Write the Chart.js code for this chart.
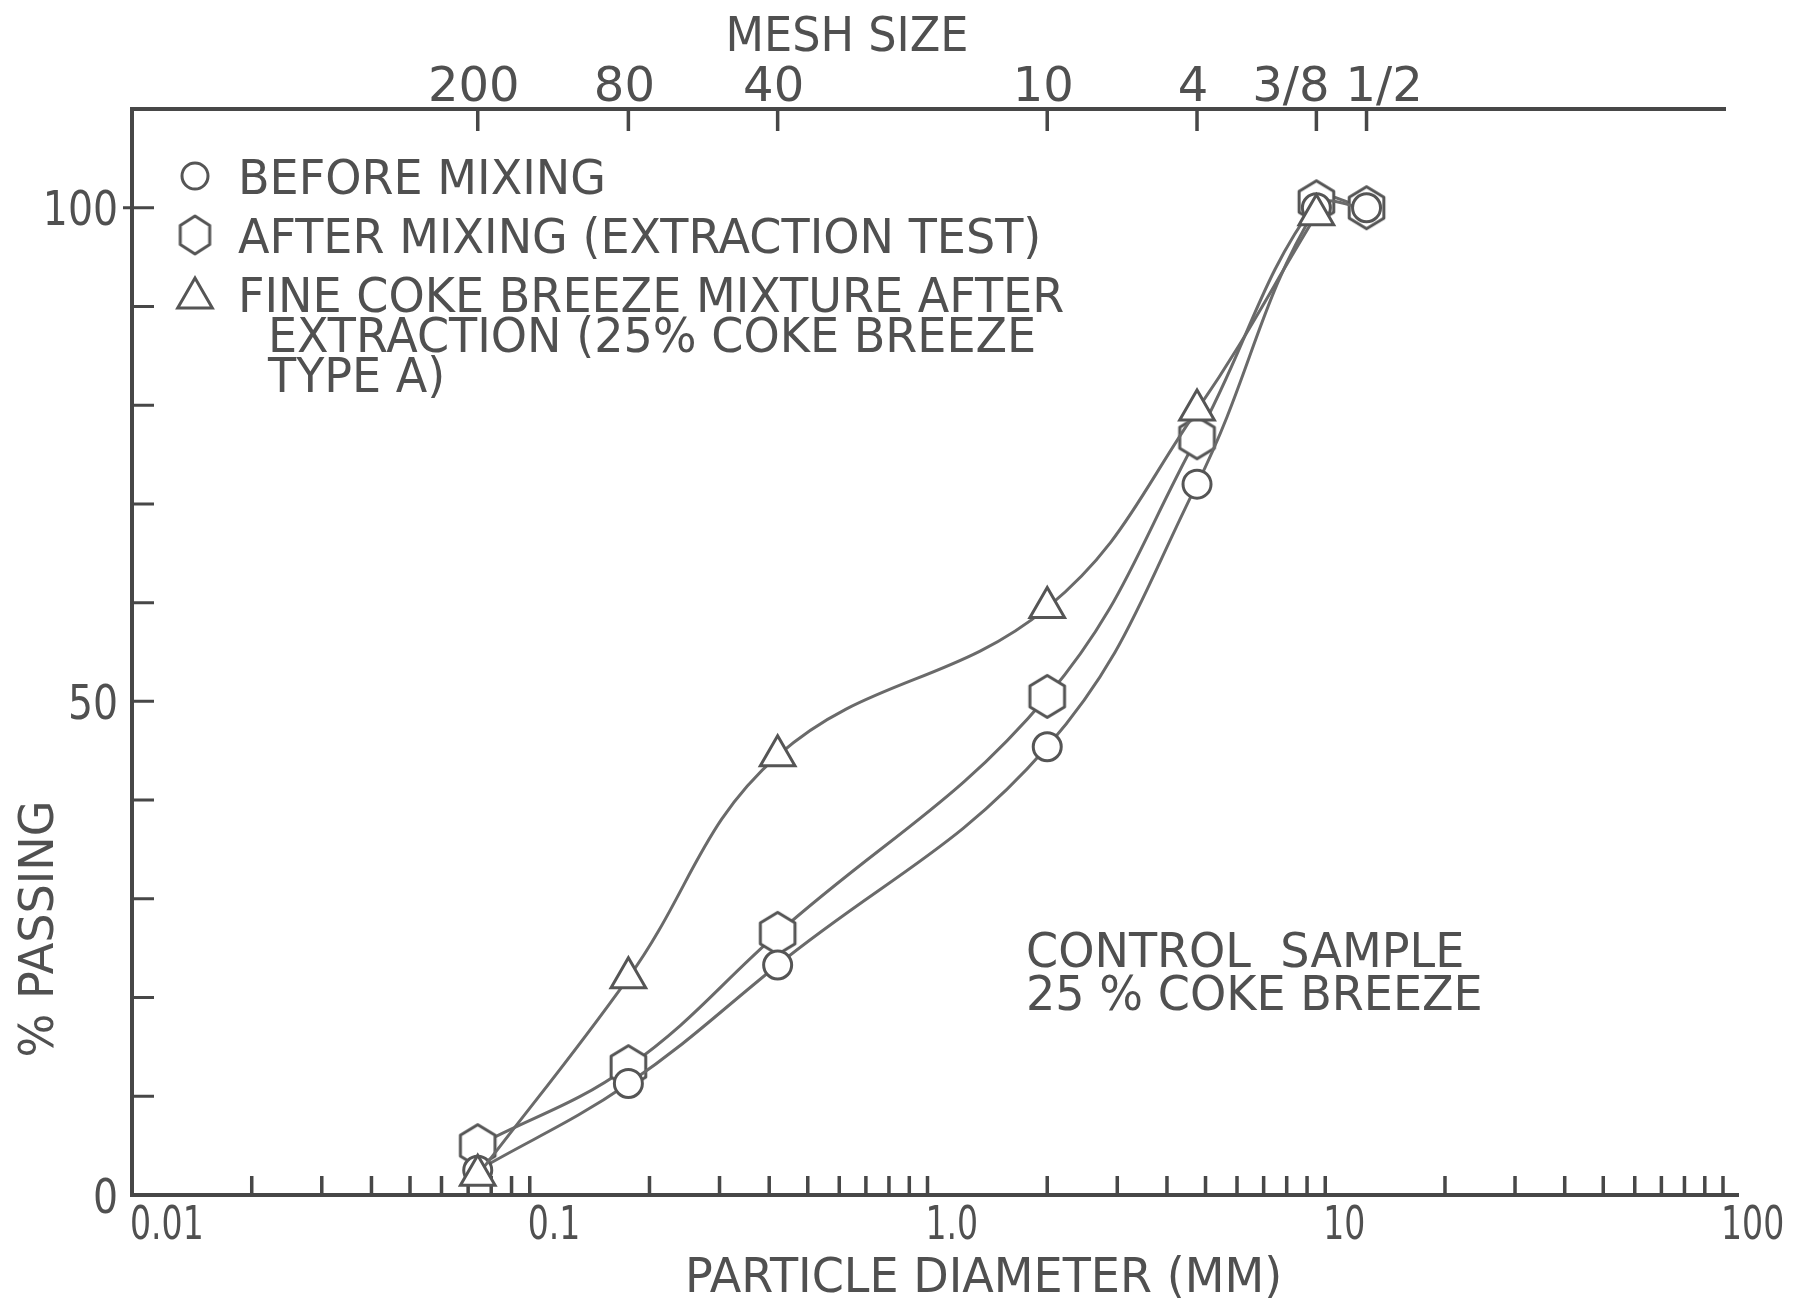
<!DOCTYPE html>
<html>
<head>
<meta charset="utf-8">
<title>Particle size distribution – control sample, 25 % coke breeze</title>
<script src="https://cdn.jsdelivr.net/npm/chart.js@4.4.0/dist/chart.umd.min.js"></script>
<style>
  html, body { margin: 0; padding: 0; background: #ffffff; }
  #wrap { width: 1801px; height: 1300px; position: relative; }
</style>
</head>
<body>
<div id="wrap"><canvas id="grading" width="1801" height="1300"></canvas></div>
<script>
// Sieve openings (mm) for mesh 200, 80, 40, 10, 4, 3/8 in, 1/2 in
const sieveSizesMm = [0.074, 0.177, 0.42, 2.0, 4.76, 9.5, 12.7];
const meshLabels = ['200', '80', '40', '10', '4', '3/8', '1/2'];

// Percent passing for each sample
const beforeMixing   = [2.5, 11.3, 23.3, 45.4, 72.0, 100, 100];
const afterMixing    = [5.0, 13.0, 26.5, 50.5, 76.7, 100.6, 100];
const fineCokeBreeze = [2.0, 22.0, 44.5, 59.5, 79.5, 99.3];

// Axis labelling
const diameterTicks = [0.01, 0.1, 1, 10, 100];
const diameterTickLabels = ['0.01', '0.1', '1.0', '10', '100'];
const passingTicks = [0, 50, 100];
const passingTickLabels = ['0', '50', '100'];

const legendEntries = [
  ['BEFORE MIXING'],
  ['AFTER MIXING (EXTRACTION TEST)'],
  ['FINE COKE BREEZE MIXTURE AFTER', 'EXTRACTION (25% COKE BREEZE', 'TYPE A)']
];
const noteLines = ['CONTROL  SAMPLE', '25 % COKE BREEZE'];

const INK = '#505050';
const AXIS_INK = '#474747';
const CURVE_INK = '#6a6a6a';
const FONT = '"DejaVu Sans", "Liberation Sans", sans-serif';

// Hollow hexagon marker (pointy top), used as a custom point style
function makeHexagon(r, lw, stretch) {
  const sy = stretch || 1;
  const w = Math.ceil(2 * r + lw + 4);
  const h = Math.ceil(2 * r * sy + lw + 4);
  const cv = document.createElement('canvas');
  cv.width = w; cv.height = h;
  const c = cv.getContext('2d');
  const cx = w / 2, cy = h / 2;
  c.beginPath();
  for (let i = 0; i < 6; i++) {
    const a = -Math.PI / 2 + i * Math.PI / 3;
    const px = cx + r * Math.cos(a), py = cy + r * sy * Math.sin(a);
    if (i === 0) c.moveTo(px, py); else c.lineTo(px, py);
  }
  c.closePath();
  c.fillStyle = '#ffffff';
  c.fill();
  c.lineWidth = lw;
  c.strokeStyle = '#555555';
  c.lineJoin = 'round';
  c.stroke();
  return cv;
}
const hexMarker = makeHexagon(20, 3, 1.05);
const hexMarkerLegend = makeHexagon(17, 3, 1.12);

function toPoints(xs, ys) {
  return ys.map((y, i) => ({ x: xs[i], y: y }));
}

// Text with cap-height centring and a slight horizontal condensing
function label(ctx, str, x, capMidY, opts = {}) {
  const size = opts.size || 48;
  const sx = opts.sx || 0.96;
  ctx.save();
  ctx.translate(x, capMidY);
  if (opts.rotate) ctx.rotate(opts.rotate);
  ctx.scale(sx, 1);
  ctx.font = size + 'px ' + FONT;
  ctx.textAlign = opts.align || 'left';
  ctx.textBaseline = 'alphabetic';
  ctx.fillStyle = opts.color || INK;
  ctx.fillText(str, 0, 0.365 * size);
  ctx.restore();
}
function labelWidth(ctx, str, opts = {}) {
  const size = opts.size || 48;
  const sx = opts.sx || 0.96;
  ctx.save();
  ctx.font = size + 'px ' + FONT;
  const w = ctx.measureText(str).width * sx;
  ctx.restore();
  return w;
}

const frameAndLabels = {
  id: 'frameAndLabels',
  beforeDatasetsDraw(chart) {
    const { ctx, chartArea: a, scales: { x, y } } = chart;
    ctx.save();
    ctx.strokeStyle = AXIS_INK;
    ctx.lineCap = 'butt';

    // frame: left, bottom and top edges
    ctx.lineWidth = 4;
    ctx.beginPath();
    ctx.moveTo(a.left, a.top);
    ctx.lineTo(a.left, a.bottom);
    ctx.moveTo(a.left - 2, a.bottom);
    ctx.lineTo(a.right + 16, a.bottom);
    ctx.moveTo(a.left - 2, a.top);
    ctx.lineTo(a.right + 3, a.top);
    ctx.stroke();

    // % passing ticks every 10, pointing inward
    ctx.lineWidth = 3;
    ctx.beginPath();
    for (let v = 10; v <= 100; v += 10) {
      const py = y.getPixelForValue(v);
      ctx.moveTo(v === 100 ? a.left - 9 : a.left, py);
      ctx.lineTo(a.left + 22, py);
    }
    ctx.stroke();

    // logarithmic diameter ticks (2..10 of every decade), pointing up
    ctx.lineWidth = 3.5;
    ctx.beginPath();
    for (let d = 0; d < diameterTicks.length - 1; d++) {
      for (let m = 2; m <= 10; m++) {
        const px = x.getPixelForValue(diameterTicks[d] * m);
        ctx.moveTo(px, a.bottom);
        ctx.lineTo(px, a.bottom - 19);
      }
    }
    ctx.stroke();

    // sieve ticks on the top edge, pointing down
    ctx.beginPath();
    sieveSizesMm.forEach(s => {
      const px = x.getPixelForValue(s);
      ctx.moveTo(px, a.top);
      ctx.lineTo(px, a.top + 22);
    });
    ctx.stroke();
    ctx.restore();
  },
  afterDraw(chart) {
    const { ctx, chartArea: a, scales: { x, y } } = chart;

    // bottom tick labels, starting at their tick
    diameterTicks.forEach((v, i) => {
      label(ctx, diameterTickLabels[i], x.getPixelForValue(v) - 2, a.bottom + 27, { size: 46, sx: 0.72 });
    });
    label(ctx, 'PARTICLE DIAMETER (MM)', (a.left + a.right) / 2 + 56, a.bottom + 79, { align: 'center' });

    // left tick labels
    passingTicks.forEach((v, i) => {
      label(ctx, passingTickLabels[i], a.left - 14, y.getPixelForValue(v), { align: 'right', sx: 0.82 });
    });
    label(ctx, '% PASSING', a.left - 97, (a.top + a.bottom) / 2 + 277, { align: 'center', rotate: -Math.PI / 2 });

    // mesh labels above the top edge, nudged apart where they would collide
    const centers = sieveSizesMm.map(s => x.getPixelForValue(s));
    const widths = meshLabels.map(t => labelWidth(ctx, t, { sx: 1 }));
    for (let i = 1; i < centers.length; i++) {
      const need = (widths[i - 1] + widths[i]) / 2 + 16;
      const gap = centers[i] - centers[i - 1];
      if (gap < need) {
        const shift = (need - gap) / 2;
        centers[i - 1] -= shift;
        centers[i] += shift;
      }
    }
    meshLabels.forEach((t, i) => label(ctx, t, centers[i] - 4, a.top - 26, { align: 'center', sx: 1 }));
    label(ctx, 'MESH SIZE', 847, a.top - 76, { align: 'center', sx: 0.93 });

    // legend
    const lx = a.left + 63, tx = a.left + 106;
    let ly = a.top + 67;
    const markerStyles = [
      { pointStyle: 'circle', radius: 13 },
      { pointStyle: hexMarkerLegend, radius: 17 },
      { pointStyle: 'triangle', radius: 20 }
    ];
    legendEntries.forEach((lines, i) => {
      ctx.save();
      ctx.strokeStyle = '#555555';
      ctx.fillStyle = '#ffffff';
      ctx.lineWidth = 3;
      Chart.helpers.drawPoint(ctx, { pointStyle: markerStyles[i].pointStyle, radius: markerStyles[i].radius, borderWidth: 3, rotation: 0 }, lx, i === 2 ? ly + 4 : ly);
      ctx.restore();
      lines.forEach((t, j) => {
        label(ctx, t, j === 0 ? tx : tx + 30, ly);
        ly += j < lines.length - 1 ? 40 : 0;
      });
      ly += 59;
    });

    // sample note
    label(ctx, noteLines[0], 1026, 949);
    label(ctx, noteLines[1], 1026, 992);
  }
};

const seriesStyle = {
  showLine: true,
  borderColor: CURVE_INK,
  borderWidth: 3,
  tension: 0.4,
  pointBackgroundColor: '#ffffff',
  pointBorderColor: '#555555',
  pointBorderWidth: 3,
  pointHoverRadius: 0,
  clip: false
};

// Datasets listed first are drawn on top
new Chart(document.getElementById('grading'), {
  type: 'line',
  data: {
    datasets: [
      Object.assign({}, seriesStyle, {
        label: 'FINE COKE BREEZE MIXTURE AFTER EXTRACTION (25% COKE BREEZE TYPE A)',
        data: toPoints(sieveSizesMm, fineCokeBreeze),
        pointStyle: 'triangle',
        pointRadius: 20
      }),
      Object.assign({}, seriesStyle, {
        label: 'BEFORE MIXING',
        data: toPoints(sieveSizesMm, beforeMixing),
        pointStyle: 'circle',
        pointRadius: 14
      }),
      Object.assign({}, seriesStyle, {
        label: 'AFTER MIXING (EXTRACTION TEST)',
        data: toPoints(sieveSizesMm, afterMixing),
        pointStyle: hexMarker,
        pointRadius: 20
      })
    ]
  },
  options: {
    responsive: false,
    animation: false,
    devicePixelRatio: 1,
    layout: { padding: { left: 132, right: 78, top: 109, bottom: 105 } },
    plugins: { legend: { display: false }, tooltip: { enabled: false } },
    events: [],
    scales: {
      x: { type: 'logarithmic', min: 0.01, max: 100, display: false },
      y: { type: 'linear', min: 0, max: 110, display: false }
    }
  },
  plugins: [frameAndLabels]
});
</script>
</body>
</html>
